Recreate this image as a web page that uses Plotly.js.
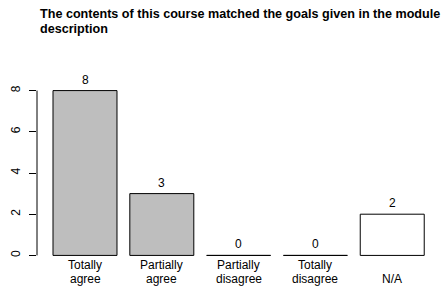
<!DOCTYPE html>
<html>
<head>
<meta charset="utf-8">
<script src="https://cdn.plot.ly/plotly-3.0.1.min.js"></script>
<style>html,body{margin:0;padding:0;background:#fff;}#chart{width:441px;height:286px;}</style>
</head>
<body>
<div id="chart"></div>
<script>
const categories = ["Totally agree", "Partially agree", "Partially disagree", "Totally disagree", "N/A"];
const tickLines1 = ["Totally", "Partially", "Partially", "Totally", ""];
const tickLines2 = ["agree", "agree", "disagree", "disagree", "N/A"];
const counts = [8, 3, 0, 0, 2];
const fillColors = ["#BEBEBE", "#BEBEBE", "#BEBEBE", "#BEBEBE", "#FFFFFF"];
const yTicks = [0, 2, 4, 6, 8];
const titleLines = ["The contents of this course matched the goals given in the module", "description"];

const font = "Liberation Sans, Arial, sans-serif";

const trace = {
  type: "bar",
  x: categories,
  y: counts,
  width: 0.833,
  marker: {color: fillColors, line: {color: "#000", width: 1}},
  hoverinfo: "none"
};

const annotations = categories.map((c, i) => ({
  x: c, y: counts[i], xref: "x", yref: "y",
  text: String(counts[i]), showarrow: false,
  yanchor: "bottom", yshift: 2,
  font: {family: font, size: 12, color: "#000"}
}));

// category labels under the bars (two lines, R style)
[tickLines1, tickLines2].forEach((lines, k) => {
  categories.forEach((c, i) => {
    if (!lines[i]) return;
    annotations.push({
      x: c, xref: "x", y: 0, yref: "paper",
      text: lines[i], showarrow: false,
      yanchor: "middle", yshift: -3 - 14 * k,
      font: {family: font, size: 12, color: "#000"}
    });
  });
});

// plot area: top 84, bottom 262 -> 178 px high
titleLines.forEach((t, i) => annotations.push({
  xref: "paper", yref: "paper",
  x: 1/404, y: (262 - 5 - 15 * i)/178,
  xanchor: "left", yanchor: "top", align: "left",
  text: "<b>" + t + "</b>", showarrow: false,
  font: {family: font, size: 12.6, color: "#000"}
}));

const layout = {
  width: 441, height: 286,
  margin: {l: 37, r: 0, t: 84, b: 24, pad: 0},
  paper_bgcolor: "#fff", plot_bgcolor: "#fff",
  showlegend: false,
  font: {family: font, size: 12, color: "#000"},
  xaxis: {
    type: "category",
    range: [-0.625, 4.635],
    showticklabels: false,
    showgrid: false, zeroline: false, showline: false, ticks: ""
  },
  yaxis: {
    range: [-0.32, 8.32],
    tickvals: yTicks, ticktext: yTicks.map(String),
    tickangle: -90,
    ticks: "outside", ticklen: 7, tickwidth: 1, tickcolor: "#000",
    ticklabelstandoff: 4,
    showgrid: false, zeroline: false, showline: false,
    tickfont: {family: font, size: 12, color: "#000"}
  },
  annotations: annotations,
  shapes: [{
    type: "line", xref: "paper", yref: "y",
    x0: 0, x1: 0, y0: yTicks[0], y1: yTicks[yTicks.length - 1],
    line: {color: "#000", width: 1}
  }]
};

Plotly.newPlot("chart", [trace], layout, {displayModeBar: false, staticPlot: true});
</script>
</body>
</html>
